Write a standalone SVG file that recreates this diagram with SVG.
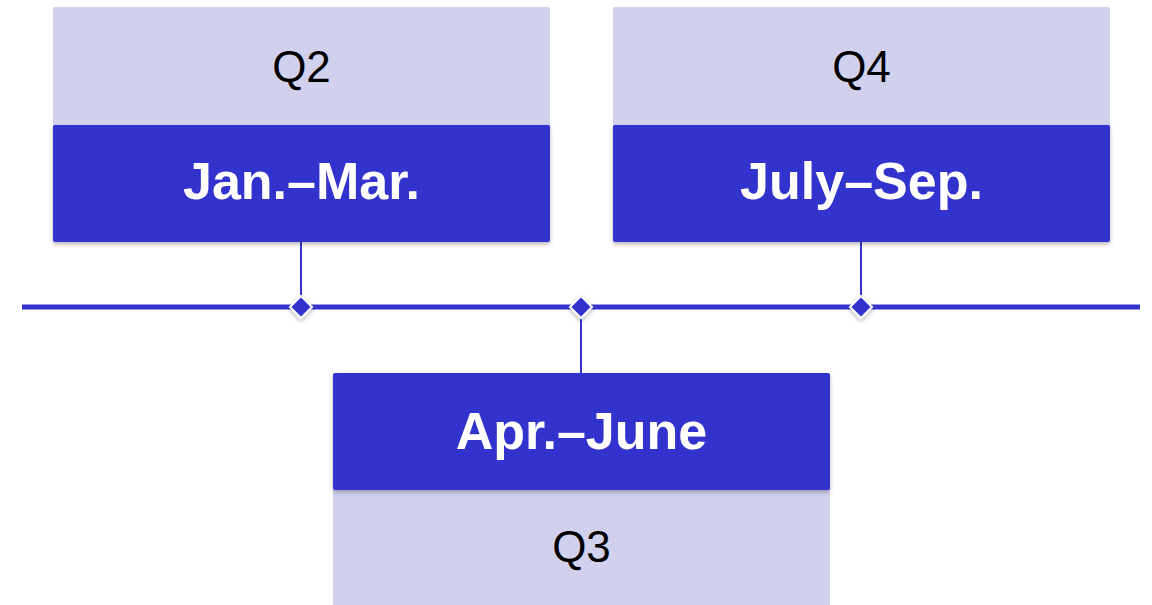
<svg xmlns="http://www.w3.org/2000/svg" width="1152" height="605" viewBox="0 0 1152 605">
<defs>
<filter id="sh" x="-10%" y="-20%" width="120%" height="150%">
<feDropShadow dx="0" dy="2" stdDeviation="2" flood-color="#000" flood-opacity="0.3"/>
</filter>
<style>
.light{fill:#D1D1EE}
.dark{fill:#3333CC}
.q{font-family:"Liberation Sans",Arial,sans-serif;font-size:44px;fill:#000;text-anchor:middle}
.m{font-family:"Liberation Sans",Arial,sans-serif;font-size:52px;font-weight:bold;fill:#fff;text-anchor:middle}
.conn{stroke:#3333CC;stroke-width:2;fill:none}
.dia{fill:#3333CC;stroke:#fff;stroke-width:2;filter:url(#sh)}
</style>
</defs>
<rect width="1152" height="605" fill="#fff"/>
<g id="connectors">
<line x1="22" y1="307" x2="1140" y2="307" stroke="#3333CC" stroke-width="5"/>
<line class="conn" x1="301" y1="242" x2="301" y2="307"/>
<line class="conn" x1="861" y1="242" x2="861" y2="307"/>
<line class="conn" x1="581" y1="307" x2="581" y2="373"/>
<path class="dia" d="M301 296 L312 307 L301 318 L290 307 Z"/>
<path class="dia" d="M581 296 L592 307 L581 318 L570 307 Z"/>
<path class="dia" d="M861 296 L872 307 L861 318 L850 307 Z"/>
</g>
<g id="node-q2">
<rect class="light" x="53" y="7" width="497" height="122" rx="2"/>
<rect class="dark" x="53" y="125" width="497" height="117" rx="2" filter="url(#sh)"/>
<text class="q" x="301.5" y="82">Q2</text>
<text class="m" x="301.5" y="199">Jan.–Mar.</text>
</g>
<g id="node-q4">
<rect class="light" x="613" y="7" width="497" height="122" rx="2"/>
<rect class="dark" x="613" y="125" width="497" height="117" rx="2" filter="url(#sh)"/>
<text class="q" x="861.5" y="82">Q4</text>
<text class="m" x="861.5" y="199">July–Sep.</text>
</g>
<g id="node-q3">
<rect class="light" x="333" y="488" width="497" height="125"/>
<rect class="dark" x="333" y="373" width="497" height="117" rx="2" filter="url(#sh)"/>
<text class="m" x="581.5" y="449">Apr.–June</text>
<text class="q" x="581.5" y="562">Q3</text>
</g>
</svg>
